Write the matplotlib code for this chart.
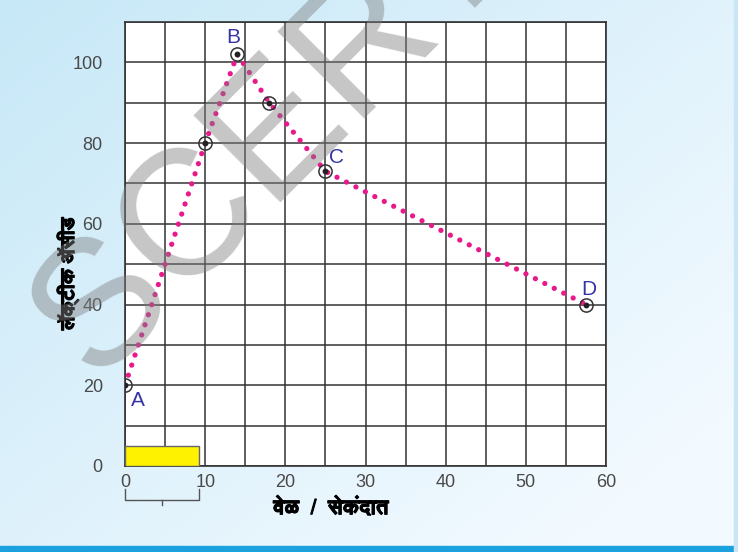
import numpy as np
import matplotlib
matplotlib.use("Agg")
import matplotlib.pyplot as plt
from matplotlib import font_manager
from matplotlib.ft2font import FT2Font
from matplotlib.patches import Rectangle
import matplotlib.patheffects as pe

# ---- data ----
times = [0, 10, 14, 18, 25, 57.5]
lactic = [20, 80, 102, 90, 73, 40]
point_names = {0: "A", 2: "B", 4: "C", 5: "D"}
x_ticks = [0, 10, 20, 30, 40, 50, 60]
y_ticks = [0, 20, 40, 60, 80, 100]
x_label = "वेळ  /  सेकंदात"
y_label = "लॅक्टीक ॲसीड"
rest_bar = (0, 9.2, 5)  # start, end, height

# find a font with Devanagari glyphs
deva = None
for f in font_manager.fontManager.ttflist:
    try:
        cm = FT2Font(f.fname).get_charmap()
        if 0x0935 in cm:
            deva = f.name
            if "bold" in f.fname.lower():
                break
    except Exception:
        pass
lab_family = [deva, "DejaVu Sans"] if deva else ["DejaVu Sans"]

fig = plt.figure(figsize=(7.38, 5.52), dpi=100)
# background gradient
bg = fig.add_axes([0, 0, 1, 1], zorder=-10)
grad = np.linspace(0, 1, 256)
X, Y = np.meshgrid(grad, grad)
t = np.clip(0.6 * X + 0.55 * Y, 0, 1)
c0 = np.array([0.78, 0.91, 0.97])
c1 = np.array([0.95, 0.98, 1.0])
img = c0[None, None, :] * (1 - t[..., None]) + c1[None, None, :] * t[..., None]
bg.imshow(img, extent=[0, 1, 0, 1], aspect="auto", origin="upper")
bg.set_xlim(0, 1); bg.set_ylim(0, 1)
bg.axis("off")
bg.axhspan(0, 0.011, color="#1ba1dd")
bg.axvspan(0.995, 1.0, color="#c9e6f4")

ax = fig.add_axes([0.1694, 0.1558, 0.6518, 0.8043])
ax.set_facecolor("white")
ax.set_xlim(0, 60)
ax.set_ylim(0, 110)
ax.set_xticks(x_ticks)
ax.set_xticks(np.arange(0, 61, 5), minor=True)
ax.set_yticks(y_ticks)
ax.set_yticks(np.arange(0, 111, 10), minor=True)
ax.grid(True, which="both", color="#333333", linewidth=1.1)
ax.set_axisbelow(True)
ax.tick_params(which="both", length=0, labelsize=13, labelcolor="#4a4a4a")
ax.tick_params(axis="x", pad=6)
ax.tick_params(axis="y", pad=16)
for lab in ax.get_xticklabels() + ax.get_yticklabels():
    lab.set_family("Liberation Sans")
for s in ax.spines.values():
    s.set_color("#333333")
    s.set_linewidth(1.2)

ax.add_patch(Rectangle((rest_bar[0], 0), rest_bar[1] - rest_bar[0], rest_bar[2],
                       facecolor="#fff200", edgecolor="#666666", linewidth=1, zorder=3))

ax.plot(times, lactic, linestyle=(0, (0.01, 2.0)), color="#e8198b", linewidth=3.8,
        dash_capstyle="round", zorder=4)
ax.plot(times, lactic, "o", markersize=9.5, markerfacecolor="none",
        markeredgecolor="#333333", markeredgewidth=1.1, zorder=5)
ax.plot(times, lactic, "o", markersize=3.2, color="#222222", zorder=6)

offsets = {"A": (1.6, -3.7), "B": (-0.5, 4.2), "C": (1.4, 3.5), "D": (0.4, 3.8)}
for i, name in point_names.items():
    dx, dy = offsets[name]
    ax.text(times[i] + dx, lactic[i] + dy, name, color="#3535a5", fontsize=15,
            family="Liberation Sans", ha="center", va="center", zorder=7)

# bracket below x-axis
yb = -8.4
ax.plot([rest_bar[0], rest_bar[0], rest_bar[1], rest_bar[1]], [-5.8, yb, yb, -5.8],
        color="#555555", linewidth=1, clip_on=False)
ax.plot([(rest_bar[0] + rest_bar[1]) / 2] * 2, [yb, yb - 1.2], color="#555555",
        linewidth=1, clip_on=False)

bold = [pe.withStroke(linewidth=0.8, foreground="black")]
fig.text(0.448, 0.079, x_label, family=lab_family, fontsize=15, fontweight="bold",
         ha="center", va="center", path_effects=bold)
fig.text(0.092, 0.505, y_label, family=lab_family, fontsize=14, fontweight="bold",
         ha="center", va="center", rotation=90, path_effects=bold)

# watermark
fig.text(0.371, 0.754, "SCERT", fontsize=128, color="#808080", alpha=0.45,
         rotation=45, ha="center", va="center", family="Liberation Sans",
         zorder=20)

fig.savefig("out.png", dpi=100)
